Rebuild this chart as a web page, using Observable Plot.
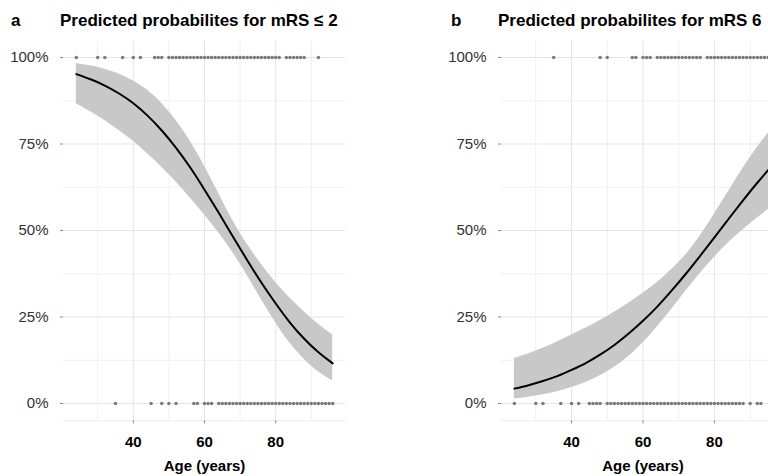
<!DOCTYPE html>
<html><head><meta charset="utf-8">
<script src="https://cdn.jsdelivr.net/npm/d3@7"></script>
<script src="https://cdn.jsdelivr.net/npm/@observablehq/plot@0.6"></script>
<style>
html,body{margin:0;padding:0;background:#fff;}
#wrap{position:relative;width:768px;height:476px;overflow:hidden;font-family:"Liberation Sans",Arial,sans-serif;}
.panel{position:absolute;top:0;}
.tag,.title{position:absolute;top:12.3px;font-weight:bold;font-size:17px;line-height:17px;color:#000;white-space:nowrap;}
</style></head><body><div id="wrap"></div>
<script>
// ---- data ----
const curveAges = [24,28,32,36,40,44,48,52,56,60,64,68,72,76,80,84,88,92,96];
// Panel a: mRS <= 2
const fitA  = [95.2,93.7,91.9,89.6,86.8,83.2,78.9,73.9,68.2,61.8,55.1,48.2,41.4,34.9,28.9,23.4,18.7,14.8,11.6];
const lowA  = [86.6,84.3,81.8,78.9,75.8,72.2,68.3,64.0,59.4,54.5,49.3,43.6,37.0,30.0,23.3,17.5,12.8,9.2,6.5];
const highA = [98.3,97.6,96.6,95.2,93.2,90.5,86.7,81.8,75.8,68.6,60.7,52.8,46.0,40.2,35.0,30.5,26.5,22.9,19.8];
// Panel b: mRS 6
const fitB  = [4.3,5.3,6.5,7.9,9.7,11.7,14.1,16.9,20.2,23.9,28.0,32.6,37.5,42.7,48.0,53.4,58.7,63.8,68.6];
const lowB  = [1.3,1.8,2.5,3.4,4.6,6.1,8.0,10.5,13.6,17.5,22.1,27.2,32.5,37.6,42.3,46.5,50.2,53.6,56.8];
const highB = [13.0,14.4,16.0,17.8,19.8,21.8,24.0,26.4,29.0,31.9,35.0,38.7,43.0,48.4,54.8,61.4,68.0,74.0,79.3];
// observed outcomes (ages) at 100% and 0%
const aAt100 = [24,30,32,37,40,42,46,47,48,50,51,52,53,54,55,56,57,58,59,60,61,62,63,64,65,66,67,68,69,70,71,72,73,74,75,76,77,78,79,80,81,83,84,85,86,87,88,92];
const aAt0   = [35,45,48,50,52,57,58,60,61,62,64,65,66,67,68,69,70,71,72,73,74,75,76,77,78,79,80,81,82,83,84,85,86,87,88,89,90,91,92,93,94,95,96];
const bAt100 = [35,48,50,57,58,60,61,62,64,65,66,67,68,69,70,71,72,73,74,75,76,78,79,80,81,82,83,84,85,86,87,88,89,90,91,92,93,94,95,96];
const bAt0   = [24,30,32,37,40,42,45,46,47,48,50,51,52,53,54,55,56,57,58,59,60,61,62,63,64,65,66,67,68,69,70,71,72,73,74,75,76,77,78,79,80,81,82,83,84,85,86,87,88,90,92,93];
const yTicks = [0,0.25,0.5,0.75,1];
const yMinor = [0.125,0.375,0.625,0.875];
const xTicks = [40,60,80];
const xMinor = [30,50,70,90];
const tags = ["a","b"];
const titles = ["Predicted probabilites for mRS \u2264 2","Predicted probabilites for mRS 6"];
const xLabel = "Age (years)";

// ---- build ----
const FONT = "'Liberation Sans', Arial, sans-serif";
function panel(fit, low, high, at100, at0, opts){
  const band = curveAges.map((a,i)=>({age:a, fit:fit[i]/100, low:low[i]/100, high:high[i]/100}));
  const obs = at100.map(a=>({age:a,y:1})).concat(at0.map(a=>({age:a,y:0})));
  return Plot.plot({
    width: opts.width, height: 476,
    marginLeft: opts.ml, marginRight: opts.mr, marginTop: 39.7, marginBottom: 55.7,
    style:{fontFamily:FONT, background:"transparent", overflow:"visible"},
    x:{domain:[20.4,99.6]},
    y:{domain:[-0.05,1.05]},
    marks:[
      Plot.gridX(xMinor,{stroke:"#f0f0f0", strokeOpacity:1, strokeWidth:1}),
      Plot.gridY(yMinor,{stroke:"#f0f0f0", strokeOpacity:1, strokeWidth:1}),
      Plot.gridX(xTicks,{stroke:"#e6e6e6", strokeOpacity:1, strokeWidth:1}),
      Plot.gridY(yTicks,{stroke:"#e6e6e6", strokeOpacity:1, strokeWidth:1}),
      Plot.frame({anchor:"bottom", stroke:"#ececec"}),
      Plot.areaY(band,{x:"age", y1:"low", y2:"high", fill:"#c8c8c8", curve:"natural"}),
      Plot.lineY(band,{x:"age", y:"fit", stroke:"#000", strokeWidth:2, curve:"natural"}),
      Plot.dot(obs,{x:"age", y:"y", r:1.75, fill:"#7a7a7a", stroke:null}),
      Plot.axisY(yTicks,{tickSize:3, tickPadding:12, stroke:"#888", fill:"#333", fontSize:15,
        tickFormat:d=>Math.round(d*100)+"%", label:null}),
      Plot.axisX(xTicks,{tickSize:3, tickPadding:13, stroke:"#888", fill:"#000", fontSize:15, fontWeight:"bold", label:null}),
      Plot.text([xLabel],{frameAnchor:"bottom", dy:50, lineAnchor:"bottom", fontSize:15, fontWeight:"bold", fill:"#000"})
    ]
  });
}
const wrap = document.getElementById("wrap");
const pa = panel(fitA, lowA, highA, aAt100, aAt0, {width:384, ml:63, mr:39});
pa.classList.add("panel"); pa.style.left="0px";
const pb = panel(fitB, lowB, highB, bAt100, bAt0, {width:400, ml:117, mr:0});
pb.classList.add("panel"); pb.style.left="384px";
wrap.appendChild(pa); wrap.appendChild(pb);
const pos = [[11,60],[451,498]];
tags.forEach((t,i)=>{
  const d=document.createElement("div"); d.className="tag"; d.textContent=t; d.style.left=pos[i][0]+"px"; wrap.appendChild(d);
  const e=document.createElement("div"); e.className="title"; e.textContent=titles[i]; e.style.left=pos[i][1]+"px"; wrap.appendChild(e);
});
</script></body></html>
